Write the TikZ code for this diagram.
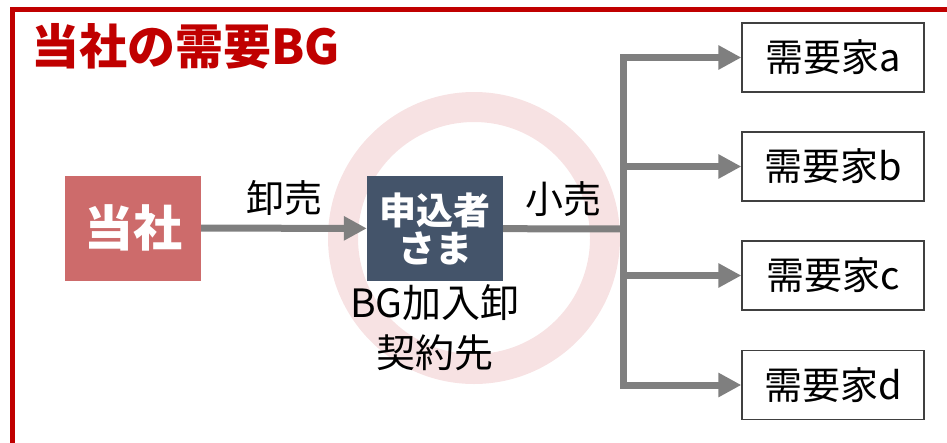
\documentclass[tikz,border=0pt]{standalone}
\usepackage{fontspec}
\setmainfont{Noto Sans CJK JP}
\usetikzlibrary{arrows.meta,positioning}
\definecolor{framered}{HTML}{C00000}
\definecolor{ourred}{HTML}{CD6B6B}
\definecolor{slate}{HTML}{44546A}
\definecolor{flowgray}{HTML}{7F7F7F}
\definecolor{ringpink}{HTML}{F7E2E3}
\tikzset{
    flow/.style={draw=flowgray,line width=7pt,-{Triangle[length=23pt,width=23pt]}},
    party/.style={minimum width=136pt,minimum height=105pt,inner sep=0pt,text=white,font=\fontsize{37}{42}\selectfont\bfseries,align=center},
    demand/.style={draw=black!75,line width=1.3pt,minimum width=182pt,minimum height=69pt,inner sep=0pt,font=\fontsize{38}{40}\selectfont},
    flowlabel/.style={text=black,font=\fontsize{38}{40}\selectfont,inner sep=0pt}
}
\begin{document}
\begin{tikzpicture}[x=1pt,y=-1pt]
    \useasboundingbox (0,0) rectangle (947,442);
    \clip (0,0) rectangle (947,442);
    \draw[framered,line width=5pt] (12,9) rectangle (990,447);
    \node[anchor=west,text=framered,font=\fontsize{48}{50}\selectfont\bfseries,inner sep=0pt] (title) at (31,46) {当社の需要BG};

    \draw[ringpink,line width=30pt] (474,238) circle (131);

    \node[party,fill=ourred,font=\fontsize{49}{50}\selectfont\bfseries] (us) at (133,228) {当社};
    \node[party,fill=slate] (applicant) at (435,228.5) {申込者\\[-4pt]さま};
    \node[below=3pt of applicant,font=\fontsize{39}{50}\selectfont,align=center,inner sep=0pt] (contract) {BG加入卸\\契約先};

    \node[demand] (dema) at (833,57.5) {需要家a};
    \node[demand] (demb) at (833,166.5) {需要家b};
    \node[demand] (demc) at (833,275.5) {需要家c};
    \node[demand] (demd) at (833,385) {需要家d};
    \coordinate (hub) at (623,229);

    \draw[flow] (us) -- node[flowlabel,above=9pt] (wholesale) {卸売} (applicant);
    \draw[flowgray,line width=7pt] (applicant) -- node[flowlabel,above=9pt] (retail) {小売} (hub);
    \foreach \c in {a,b,c,d}
        \draw[flow] (hub) |- (dem\c);
\end{tikzpicture}
\end{document}
